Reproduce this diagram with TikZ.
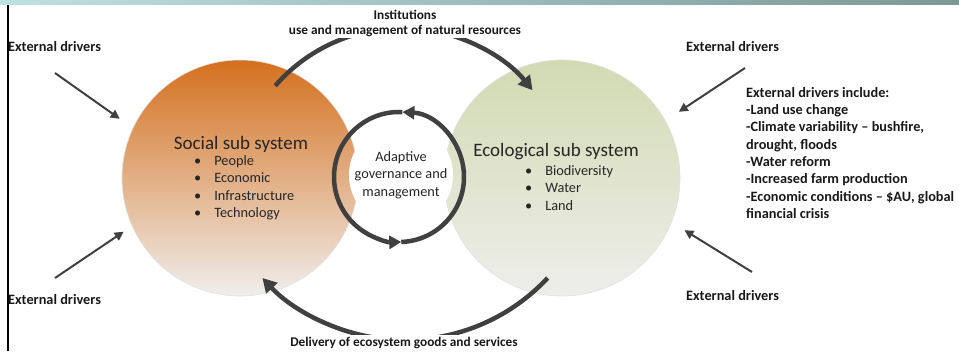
\documentclass[tikz,border=0pt]{standalone}
\usepackage{fontspec}
\setmainfont{Carlito}
\usetikzlibrary{arrows.meta, positioning, calc}

\definecolor{socialtop}{RGB}{212,112,30}
\definecolor{socialbottom}{RGB}{240,238,236}
\definecolor{ecotop}{RGB}{210,218,178}
\definecolor{ecobottom}{RGB}{238,238,234}
\definecolor{barleft}{RGB}{190,225,228}
\definecolor{barright}{RGB}{124,152,150}
\definecolor{arrowgray}{RGB}{64,64,64}

\begin{document}
\begin{tikzpicture}[
        x=1pt, y=1pt,
        node distance=2pt and 4pt,
        % Estilos dos circulos e textos
        subsystem/.style={circle, minimum size=236pt, inner sep=0pt, draw=black!12, line width=0.6pt},
        titletext/.style={inner sep=0pt, text=black!85, font=\fontsize{19}{22}\selectfont},
        listtext/.style={inner sep=0pt, text=black!85, align=left, font=\fontsize{14.3}{17.6}\selectfont},
        drivertext/.style={inner sep=0pt, text=black!90, align=left, font=\fontsize{14.3}{17.3}\selectfont\bfseries},
        flowtext/.style={inner sep=2pt, text=black!90, align=center, fill=white, font=\fontsize{13.3}{15}\selectfont\bfseries},
        % Setas
        driver/.style={-{Triangle[length=9pt, width=9pt]}, line width=2pt, draw=arrowgray},
        flow/.style={-{Triangle[length=14pt, width=15pt]}, line width=4.5pt, draw=arrowgray},
        loopflow/.style={-{Triangle[length=12pt, width=13pt]}, line width=4.5pt, draw=arrowgray}
    ]
    \useasboundingbox (0,0) rectangle (959,351);

    % Faixa superior
    \shade[left color=barleft, right color=barright] (0,346) rectangle (959,351);

    % 1. Subsistemas
    \node (social) [subsystem, top color=socialtop, bottom color=socialbottom] at (240,173) {};
    \node (eco) [subsystem, top color=ecotop, bottom color=ecobottom] at (562,173) {};

    % 2. Governanca adaptativa (anel com duas setas)
    \node (adaptive) [circle, fill=white, minimum size=100pt, listtext, align=center] at (401,176) {Adaptive\\governance and\\management};
    \coordinate (ring) at (399,174);
    \draw [loopflow] ($(ring)+(-88:65)$) arc[start angle=-88, end angle=87, radius=65];
    \draw [loopflow] ($(ring)+(87:65)$) arc[start angle=87, end angle=272, radius=65];

    % Textos dos subsistemas
    \node (socialtitle) [titletext] at (241,206.5) {Social sub system};
    \node (sociallist) [listtext, anchor=north west] at (194,196) {\textbullet\hspace{13pt}People\\\textbullet\hspace{13pt}Economic\\\textbullet\hspace{13pt}Infrastructure\\\textbullet\hspace{13pt}Technology};
    \node (ecotitle) [titletext] at (556,199.5) {Ecological sub system};
    \node (ecolist) [listtext, anchor=north west] at (525,186) {\textbullet\hspace{13pt}Biodiversity\\\textbullet\hspace{13pt}Water\\\textbullet\hspace{13pt}Land};

    % 3. Fluxos entre os subsistemas
    \coordinate (topc) at (402,155);
    \coordinate (botc) at (405,206);
    \draw [flow] ($(topc)+(139:168)$) arc[start angle=139, end angle=39, radius=168];
    \draw [flow] ($(botc)+(-43:195)$) arc[start angle=-43, end angle=-137, radius=195];
    \node (institutions) [flowtext] at (405,328) {Institutions\\use and management of natural resources};
    \node (delivery) [flowtext] at (404,8) {Delivery of ecosystem goods and services};

    % 4. Forcas externas
    \node (extTL) [drivertext, anchor=west] at (8,304) {External drivers};
    \node (extBL) [drivertext, anchor=west] at (8,51) {External drivers};
    \node (extTR) [drivertext, anchor=west] at (686,304) {External drivers};
    \node (extBR) [drivertext, anchor=west] at (686,55) {External drivers};
    \node (extlist) [drivertext, anchor=north west] at (746,264) {External drivers include:\\-Land use change\\-Climate variability -- bushfire,\\drought, floods\\-Water reform\\-Increased farm production\\-Economic conditions -- \$AU, global\\financial crisis};

    \coordinate (tlFrom) at (55,278);
    \coordinate (blFrom) at (55,73);
    \coordinate (trFrom) at (745,283);
    \coordinate (brFrom) at (752,79);
    \draw [driver, shorten >=16pt] (tlFrom) -- (social.155);
    \draw [driver, shorten >=10pt] (blFrom) -- (social.204);
    \draw [driver, shorten >=16pt] (trFrom) -- (eco.29);
    \draw [driver, shorten >=15pt] (brFrom) -- (eco.-22);

    % Linha vertical da margem
    \draw [line width=2pt] (8,0) -- (8,346);

    \end{tikzpicture}
\end{document}
